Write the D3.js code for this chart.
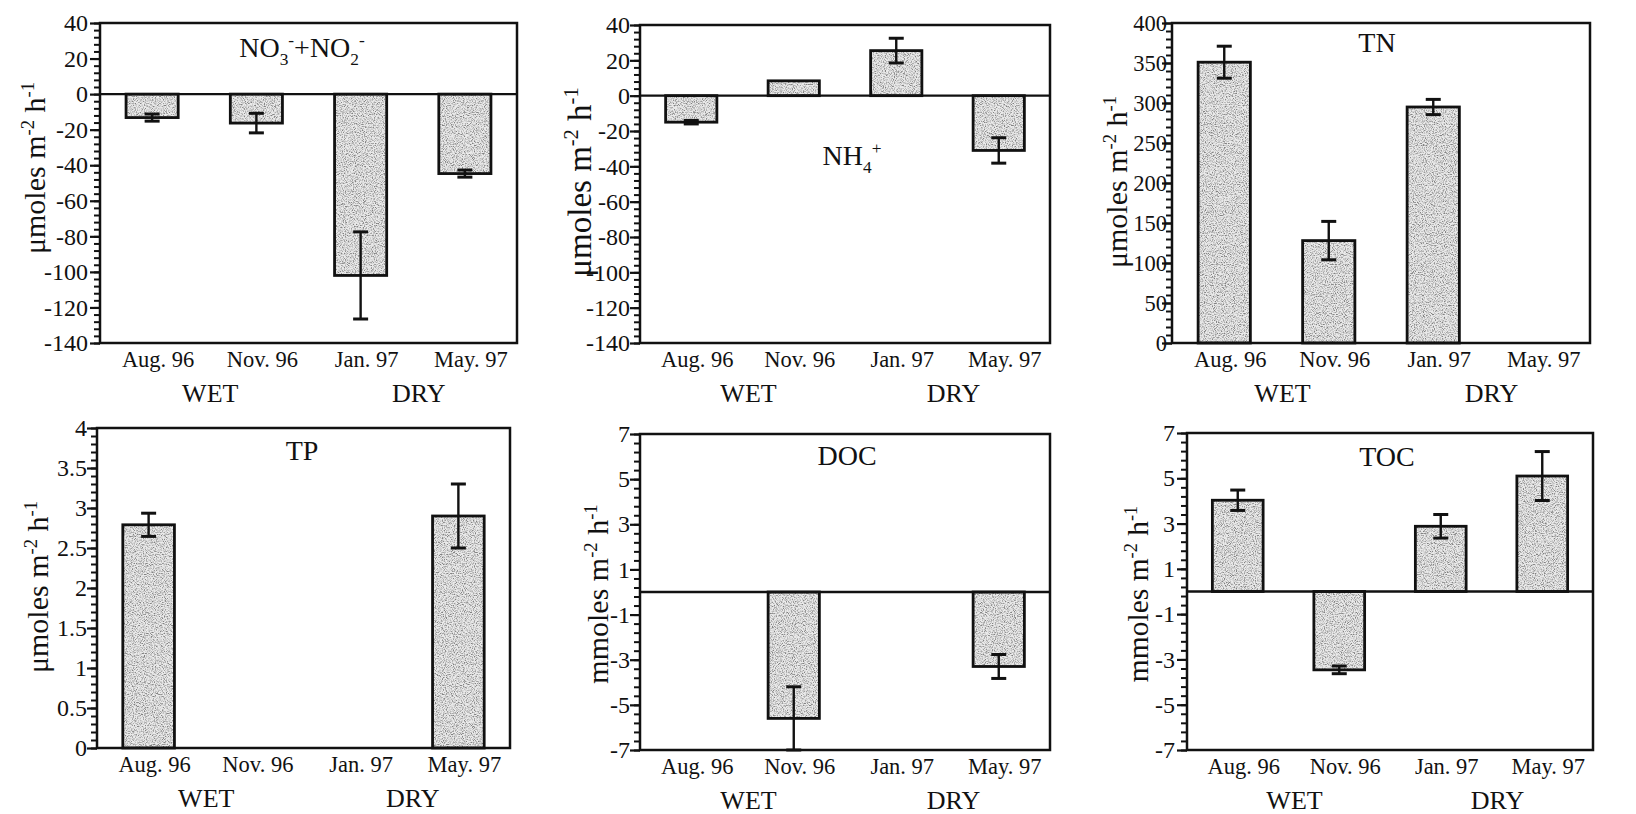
<!DOCTYPE html>
<html><head><meta charset="utf-8">
<script src="https://cdn.jsdelivr.net/npm/d3@7"></script>
<style>
html,body{margin:0;padding:0;background:#fff;}
svg{display:block;}
</style>
</head><body>
<svg id="chart" width="1636" height="814"></svg>
<script>
// Sampling dates and seasons shared by all six panels
const months = ["Aug. 96", "Nov. 96", "Jan. 97", "May. 97"];
const seasons = ["WET", "DRY"];

// Flux means and error (± half-range) per sampling date; null = no bar
const no3Mean = [-13.2, -16.3, -102, -44.7];
const no3Err  = [2, 5.5, 24.5, 2];
const nh4Mean = [-15, 8.4, 25.5, -31];
const nh4Err  = [1, 0, 7, 7.2];
const tnMean  = [351, 128, 295, null];
const tnErr   = [20, 24, 9.5, null];
const tpMean  = [2.79, null, null, 2.9];
const tpErr   = [0.145, null, null, 0.4];
const docMean = [null, -5.6, null, -3.3];
const docErr  = [null, 1.4, null, 0.53];
const tocMean = [4.03, -3.46, 2.88, 5.1];
const tocErr  = [0.45, 0.17, 0.52, 1.08];

// Y tick labels
const no3Ticks = [40, 20, 0, -20, -40, -60, -80, -100, -120, -140];
const nh4Ticks = [40, 20, 0, -20, -40, -60, -80, -100, -120, -140];
const tnTicks  = [0, 50, 100, 150, 200, 250, 300, 350, 400];
const tpTicks  = [0, 0.5, 1, 1.5, 2, 2.5, 3, 3.5, 4];
const docTicks = [7, 5, 3, 1, -1, -3, -5, -7];
const tocTicks = [7, 5, 3, 1, -1, -3, -5, -7];

const FONT = '"Liberation Serif", "Times New Roman", Tinos';
const INK = "#111";
const svg = d3.select("#chart");

// speckled grey fill for the bars
const defs = svg.append("defs");
const grain = defs.append("filter").attr("id", "grain")
  .attr("x", 0).attr("y", 0).attr("width", 1).attr("height", 1);
grain.append("feTurbulence").attr("type", "fractalNoise")
  .attr("baseFrequency", 0.9).attr("numOctaves", 2).attr("seed", 7).attr("result", "noise");
grain.append("feColorMatrix").attr("in", "noise").attr("type", "matrix")
  .attr("values", "3 0 0 0 -0.75  3 0 0 0 -0.75  3 0 0 0 -0.75  0 0 0 0 0.6")
  .attr("result", "speck");
grain.append("feComposite").attr("in", "speck").attr("in2", "SourceGraphic")
  .attr("operator", "in").attr("result", "speckIn");
const merge = grain.append("feMerge");
merge.append("feMergeNode").attr("in", "SourceGraphic");
merge.append("feMergeNode").attr("in", "speckIn");

const unitMicro = [{t: "\u03bcmoles m"}, {t: "-2", sup: true}, {t: " h"}, {t: "-1", sup: true}];
const unitMilli = [{t: "mmoles m"}, {t: "-2", sup: true}, {t: " h"}, {t: "-1", sup: true}];

const panels = [
  {mean: no3Mean, err: no3Err, ticks: no3Ticks, minor: 4, unit: unitMicro, gap: 12, tickFont: 24,
   frame: {l: 100, r: 517, t: 23, b: 343}, ylab: [45, 168, 30],
   title: [{t: "NO"}, {t: "3", sub: true}, {t: "-", sup: true}, {t: "+NO"}, {t: "2", sub: true}, {t: "-", sup: true}],
   titlePos: [302, 57]},
  {mean: nh4Mean, err: nh4Err, ticks: nh4Ticks, minor: 4, unit: unitMicro, gap: 10, tickFont: 24,
   frame: {l: 640, r: 1050, t: 25, b: 343}, ylab: [591, 182, 33],
   title: [{t: "NH"}, {t: "4", sub: true}, {t: "+", sup: true}], titlePos: [852, 165]},
  {mean: tnMean, err: tnErr, ticks: tnTicks, minor: 10, unit: unitMicro, gap: 5, tickFont: 22.5,
   frame: {l: 1172, r: 1590, t: 23, b: 343}, ylab: [1127, 182, 30],
   title: [{t: "TN"}], titlePos: [1377, 52]},
  {mean: tpMean, err: tpErr, ticks: tpTicks, minor: 0.1, unit: unitMicro, gap: 10, tickFont: 24,
   frame: {l: 97, r: 510, t: 428, b: 748}, ylab: [48, 587, 30],
   title: [{t: "TP"}], titlePos: [302, 460]},
  {mean: docMean, err: docErr, ticks: docTicks, minor: 0.4, unit: unitMilli, gap: 10, tickFont: 24,
   frame: {l: 640, r: 1050, t: 434, b: 750}, ylab: [608, 594, 30],
   title: [{t: "DOC"}], titlePos: [847, 465]},
  {mean: tocMean, err: tocErr, ticks: tocTicks, minor: 0.4, unit: unitMilli, gap: 12, tickFont: 24,
   frame: {l: 1187, r: 1593, t: 433, b: 750}, ylab: [1148, 594, 29.5],
   title: [{t: "TOC"}], titlePos: [1387, 466]}
];

function styleText(sel, size) {
  return sel.style("font-family", FONT).style("font-size", size + "px").attr("fill", INK);
}

// write a text run with sub/superscripts as tspans
function richText(sel, parts, size) {
  let shift = 0;
  parts.forEach(p => {
    const target = p.sub ? size * 0.28 : p.sup ? -size * 0.38 : 0;
    sel.append("tspan")
      .attr("dy", target - shift)
      .style("font-size", ((p.sub || p.sup) ? size * 0.62 : size) + "px")
      .text(p.t);
    shift = target;
  });
}

panels.forEach(p => {
  const f = p.frame;
  const g = svg.append("g");
  const lo = d3.min(p.ticks), hi = d3.max(p.ticks);

  const x = d3.scaleBand().domain(months).range([f.l, f.r])
    .paddingInner(0.5).paddingOuter(0.25);
  const y = d3.scaleLinear().domain([lo, hi]).range([f.b, f.t]);

  // bars
  const rows = months.map((m, i) => ({m, v: p.mean[i], e: p.err[i]})).filter(d => d.v != null);
  g.selectAll("rect.bar").data(rows).join("rect").attr("class", "bar")
    .attr("x", d => x(d.m))
    .attr("y", d => y(Math.max(0, d.v)))
    .attr("width", x.bandwidth())
    .attr("height", d => Math.abs(y(d.v) - y(0)))
    .attr("fill", "#c4c4c4")
    .attr("filter", "url(#grain)");
  g.selectAll("rect.outline").data(rows).join("rect").attr("class", "outline")
    .attr("x", d => x(d.m))
    .attr("y", d => y(Math.max(0, d.v)))
    .attr("width", x.bandwidth())
    .attr("height", d => Math.abs(y(d.v) - y(0)))
    .attr("fill", "none").attr("stroke", INK).attr("stroke-width", 2.8);

  // error bars
  const eb = rows.filter(d => d.e > 0);
  const cx = d => x(d.m) + x.bandwidth() / 2;
  g.selectAll("line.err").data(eb).join("line").attr("class", "err")
    .attr("x1", cx).attr("x2", cx)
    .attr("y1", d => y(Math.max(lo, d.v - d.e))).attr("y2", d => y(d.v + d.e))
    .attr("stroke", INK).attr("stroke-width", 2.4);
  ["lower", "upper"].forEach(side => {
    g.selectAll("line.cap-" + side).data(eb).join("line").attr("class", "cap-" + side)
      .attr("x1", d => cx(d) - 7.5).attr("x2", d => cx(d) + 7.5)
      .attr("y1", d => y(side === "lower" ? Math.max(lo, d.v - d.e) : d.v + d.e))
      .attr("y2", d => y(side === "lower" ? Math.max(lo, d.v - d.e) : d.v + d.e))
      .attr("stroke", INK).attr("stroke-width", 3);
  });

  // zero line
  if (lo < 0 && hi > 0) {
    g.append("line").attr("x1", f.l).attr("x2", f.r).attr("y1", y(0)).attr("y2", y(0))
      .attr("stroke", INK).attr("stroke-width", 2.4);
  }

  // frame
  g.append("rect").attr("x", f.l).attr("y", f.t).attr("width", f.r - f.l).attr("height", f.b - f.t)
    .attr("fill", "none").attr("stroke", INK).attr("stroke-width", 2.5);

  // minor ticks
  const nMinor = Math.round((hi - lo) / p.minor);
  const minorVals = d3.range(nMinor + 1).map(k => +(lo + k * p.minor).toFixed(4));
  const minorAx = g.append("g").attr("transform", `translate(${f.l},0)`)
    .call(d3.axisLeft(y).tickValues(minorVals).tickSize(6).tickFormat(""));
  minorAx.select(".domain").remove();
  minorAx.selectAll("text").remove();
  minorAx.selectAll("line").attr("stroke", INK).attr("stroke-width", 2);

  // major ticks + labels
  const majorAx = g.append("g").attr("transform", `translate(${f.l},0)`)
    .call(d3.axisLeft(y).tickValues(p.ticks).tickSize(10).tickPadding(p.gap - 10)
      .tickFormat(d => String(d)));
  majorAx.select(".domain").remove();
  majorAx.selectAll("line").attr("stroke", INK).attr("stroke-width", 2.2);
  styleText(majorAx.selectAll("text"), p.tickFont);

  // month labels
  styleText(g.selectAll("text.month").data(months).join("text").attr("class", "month")
    .attr("x", d => x(d) + x.bandwidth() / 2 + 6)
    .attr("y", f.b + 24)
    .attr("text-anchor", "middle")
    .text(d => d), 22.5);

  // season labels, centred between the two dates of each season
  const seasonX = [x(months[1]) - x.step() * 0.25, x(months[3]) - x.step() * 0.25];
  styleText(g.selectAll("text.season").data(seasons).join("text").attr("class", "season")
    .attr("x", (d, i) => seasonX[i] + 6)
    .attr("y", f.b + 59)
    .attr("text-anchor", "middle")
    .text(d => d), 26);

  // y axis title
  const ySize = p.ylab[2];
  const yt = styleText(g.append("text")
    .attr("transform", `translate(${p.ylab[0]},${p.ylab[1]}) rotate(-90)`)
    .attr("text-anchor", "middle"), ySize);
  richText(yt, p.unit, ySize);

  // panel title
  const tt = styleText(g.append("text")
    .attr("x", p.titlePos[0]).attr("y", p.titlePos[1])
    .attr("text-anchor", "middle"), 28);
  richText(tt, p.title, 28);
});
</script>
</body></html>
